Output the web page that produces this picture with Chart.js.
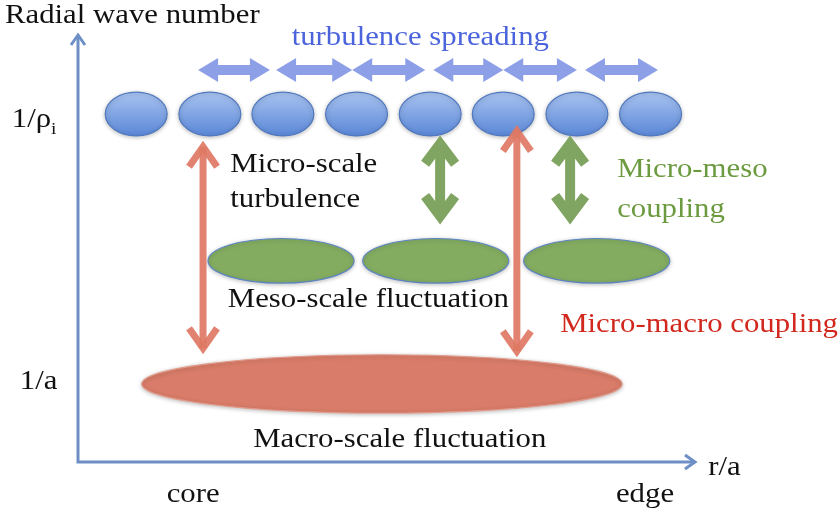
<!DOCTYPE html>
<html>
<head>
<meta charset="utf-8">
<script src="https://cdn.jsdelivr.net/npm/chart.js@4/dist/chart.umd.min.js"></script>
<style>
  html, body { margin: 0; padding: 0; background: #fff; }
  #chart { display: block; }
</style>
</head>
<body>
<canvas id="chart" width="840" height="514"></canvas>
<script>
// axis units: 0..100 along r/a (x) and along radial wave number (y)
const microX = [9.4, 21.3, 33.1, 45.0, 56.9, 68.7, 80.6, 92.5];
const microY = 81.1;
const microSize = [5.0, 5.1];          // half extent in x, y units

const mesoX = [32.8, 57.8, 83.8];
const mesoY = 46.9;
const mesoSize = [11.8, 5.2];

const macroX = [49.1];
const macroY = 18.2;
const macroSize = [38.8, 6.8];

// turbulence spreading, horizontal double arrows [from, to] at y
const spreadArrows = [[19.4, 31.0], [32.0, 44.3], [44.3, 56.1], [57.4, 68.7], [68.7, 80.6], [81.9, 93.7]];
const spreadY = 91.4;

// vertical couplings [x, yTop, yBottom]
const macroCoupling = [[20.2, 74.6, 25.4], [70.9, 78.3, 24.7]];
const mesoCoupling = [[58.5, 75.8, 55.7], [79.5, 75.8, 55.7]];

// text labels [text, x, y, align, colour]
const labels = [
  ['Radial wave number', -11.8, 104.0, 'left', '#111'],
  ['turbulence spreading', 55.3, 98.8, 'center', '#4b64dc'],
  ['1/a', -9.4, 18.6, 'left', '#111'],
  ['Micro-scale', 24.6, 69.2, 'left', '#111'],
  ['turbulence', 24.6, 61.1, 'left', '#111'],
  ['Micro-meso', 87.1, 68.1, 'left', '#6b9a3f'],
  ['coupling', 87.1, 58.7, 'left', '#6b9a3f'],
  ['Meso-scale fluctuation', 24.2, 37.8, 'left', '#111'],
  ['Micro-macro coupling', 77.9, 31.9, 'left', '#d1271c'],
  ['Macro-scale fluctuation', 28.3, 5.1, 'left', '#111'],
  ['core', 18.6, -7.7, 'center', '#111'],
  ['edge', 91.6, -7.7, 'center', '#111'],
  ['r/a', 101.8, -1.4, 'left', '#111']
];
const rhoLabel = [-10.7, 79.7];

const FONT = '"Liberation Serif", "Times New Roman", serif';
const STRETCH = 1.14;

function ellipse(ctx, cx, cy, rx, ry, fill, stroke) {
  ctx.beginPath();
  ctx.ellipse(cx, cy, rx, ry, 0, 0, Math.PI * 2);
  ctx.fillStyle = fill;
  ctx.fill();
  ctx.lineWidth = 1.2;
  ctx.strokeStyle = stroke;
  ctx.stroke();
}

function blockDoubleArrow(ctx, x1, x2, y, color) {
  const sh = 5, hh = 12, hl = 20;
  ctx.beginPath();
  ctx.moveTo(x1, y);
  ctx.lineTo(x1 + hl, y - hh);
  ctx.lineTo(x1 + hl, y - sh);
  ctx.lineTo(x2 - hl, y - sh);
  ctx.lineTo(x2 - hl, y - hh);
  ctx.lineTo(x2, y);
  ctx.lineTo(x2 - hl, y + hh);
  ctx.lineTo(x2 - hl, y + sh);
  ctx.lineTo(x1 + hl, y + sh);
  ctx.lineTo(x1 + hl, y + hh);
  ctx.closePath();
  ctx.fillStyle = color;
  ctx.fill();
}

function lineDoubleArrow(ctx, x, y1, y2, color, w, hh, hl) {
  ctx.save();
  ctx.strokeStyle = color;
  ctx.lineWidth = w;
  ctx.lineJoin = 'miter';
  ctx.lineCap = 'butt';
  const off = w * 0.7;
  ctx.beginPath();
  ctx.moveTo(x, y1 + off);
  ctx.lineTo(x, y2 - off);
  ctx.stroke();
  ctx.beginPath();
  ctx.moveTo(x - hh, y1 + off + hl);
  ctx.lineTo(x, y1 + off);
  ctx.lineTo(x + hh, y1 + off + hl);
  ctx.stroke();
  ctx.beginPath();
  ctx.moveTo(x - hh, y2 - off - hl);
  ctx.lineTo(x, y2 - off);
  ctx.lineTo(x + hh, y2 - off - hl);
  ctx.stroke();
  ctx.restore();
}

function stretchedText(ctx, text, x, y, align) {
  ctx.save();
  ctx.translate(x, y);
  ctx.scale(STRETCH, 1);
  ctx.textAlign = align;
  ctx.fillText(text, 0, 0);
  ctx.restore();
}

const diagram = {
  id: 'diagram',
  beforeDatasetsDraw(chart) {
    const ctx = chart.ctx;
    const xs = chart.scales.x, ys = chart.scales.y;
    const px = v => xs.getPixelForValue(v);
    const py = v => ys.getPixelForValue(v);
    const dx = v => px(v) - px(0);
    const dy = v => py(0) - py(v);
    const area = chart.chartArea;

    // axes with open arrow heads
    ctx.save();
    ctx.strokeStyle = '#6d8fc6';
    ctx.lineWidth = 3;
    ctx.beginPath();
    ctx.moveTo(area.left, area.top + 2);
    ctx.lineTo(area.left, area.bottom);
    ctx.lineTo(area.right - 2, area.bottom);
    ctx.stroke();
    ctx.beginPath();
    ctx.moveTo(area.left - 7, area.top + 12);
    ctx.lineTo(area.left, area.top + 2);
    ctx.lineTo(area.left + 7, area.top + 12);
    ctx.moveTo(area.right - 12, area.bottom - 7);
    ctx.lineTo(area.right - 2, area.bottom);
    ctx.lineTo(area.right - 12, area.bottom + 7);
    ctx.stroke();
    ctx.restore();

    // macro ellipse
    ctx.save();
    ctx.shadowColor = 'rgba(0,0,0,0.25)';
    ctx.shadowBlur = 4;
    ctx.shadowOffsetY = 1;
    macroX.forEach(x => ellipse(ctx, px(x), py(macroY), dx(macroSize[0]), dy(macroSize[1]), '#d97c69', '#e29a8a'));
    // meso ellipses
    mesoX.forEach(x => ellipse(ctx, px(x), py(mesoY), dx(mesoSize[0]), dy(mesoSize[1]), '#84ac61', '#5b84c4'));
    // micro ellipses
    microX.forEach(x => {
      const cy = py(microY), ry = dy(microSize[1]);
      const g = ctx.createLinearGradient(0, cy - ry, 0, cy + ry);
      g.addColorStop(0, '#a8c3f1');
      g.addColorStop(1, '#5a87d6');
      ellipse(ctx, px(x), cy, dx(microSize[0]), ry, g, '#4f78bf');
    });
    ctx.restore();

    // turbulence spreading arrows
    spreadArrows.forEach(a => blockDoubleArrow(ctx, px(a[0]), px(a[1]), py(spreadY), '#8d9fe6'));

    // couplings
    mesoCoupling.forEach(a => lineDoubleArrow(ctx, px(a[0]), py(a[1]), py(a[2]), '#80a462', 10, 15, 20));
    macroCoupling.forEach(a => lineDoubleArrow(ctx, px(a[0]), py(a[1]), py(a[2]), 'rgba(222,120,100,0.92)', 7, 14, 20));

    // labels
    ctx.save();
    ctx.textBaseline = 'middle';
    ctx.font = '27px ' + FONT;
    labels.forEach(l => {
      ctx.fillStyle = l[4];
      stretchedText(ctx, l[0], px(l[1]), py(l[2]), l[3]);
    });
    ctx.fillStyle = '#111';
    const rx = px(rhoLabel[0]), ry = py(rhoLabel[1]);
    stretchedText(ctx, '1/ρ', rx, ry, 'left');
    const w = ctx.measureText('1/ρ').width * STRETCH;
    ctx.font = '17px ' + FONT;
    stretchedText(ctx, 'i', rx + w, ry + 9, 'left');
    ctx.restore();
  }
};

new Chart(document.getElementById('chart'), {
  type: 'scatter',
  data: {
    datasets: [
      { label: 'micro', data: microX.map(x => ({ x, y: microY })), pointRadius: 0 },
      { label: 'meso', data: mesoX.map(x => ({ x, y: mesoY })), pointRadius: 0 },
      { label: 'macro', data: macroX.map(x => ({ x, y: macroY })), pointRadius: 0 }
    ]
  },
  options: {
    responsive: false,
    animation: false,
    layout: { padding: { left: 78, top: 33, right: 143, bottom: 52 } },
    scales: {
      x: { type: 'linear', min: 0, max: 100, display: false },
      y: { type: 'linear', min: 0, max: 100, display: false }
    },
    plugins: { legend: { display: false }, tooltip: { enabled: false } }
  },
  plugins: [diagram]
});
</script>
</body>
</html>
